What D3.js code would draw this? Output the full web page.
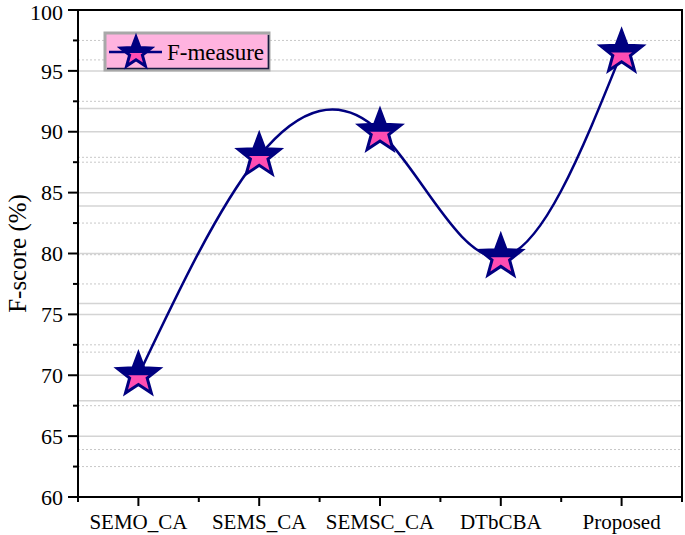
<!DOCTYPE html>
<html>
<head>
<meta charset="utf-8">
<script src="https://cdn.jsdelivr.net/npm/d3@7"></script>
<style>
  body { margin: 0; background: #fff; }
  svg { display: block; font-family: "Liberation Serif", "Times New Roman", serif; }
</style>
</head>
<body>
<svg id="chart" width="685" height="535"></svg>
<script>
const categories = ['SEMO_CA', 'SEMS_CA', 'SEMSC_CA', 'DTbCBA', 'Proposed'];
const fMeasure = [70.0, 88.0, 90.0, 79.7, 96.5];
const yTicks = [60, 65, 70, 75, 80, 85, 90, 95, 100];
const yMinor = [62.5, 67.5, 72.5, 77.5, 82.5, 87.5, 92.5, 97.5];
// second (offset) grid that shows in the original figure
const grid2Major = [67.9, 75.9, 83.9, 91.9];
const grid2Minor = [63.9, 71.9, 79.9, 87.9, 95.9];

const NAVY = '#000080';
const PINK = '#ff4db2';

const svg = d3.select('#chart');
const m = { left: 78, right: 682, top: 10, bottom: 497 };

const x = d3.scaleLinear().domain([0.5, categories.length + 0.5]).range([m.left, m.right]);
const y = d3.scaleLinear().domain([60, 100]).range([m.bottom, m.top]);

// grid
const grid = svg.append('g').attr('class', 'grid');
function hLines(vals, dashed) {
  grid.selectAll(null).data(vals).enter().append('line')
    .attr('x1', m.left).attr('x2', m.right)
    .attr('y1', d => y(d)).attr('y2', d => y(d))
    .attr('stroke', dashed ? '#c8c8c8' : '#d4d4d4')
    .attr('stroke-width', dashed ? 1 : 1.5)
    .attr('stroke-dasharray', dashed ? '2,2' : null);
}
hLines(yTicks.slice(1, -1), false);
hLines(yMinor, true);
hLines(grid2Major, false);
hLines(grid2Minor, true);

// frame
svg.append('rect')
  .attr('x', m.left).attr('y', m.top)
  .attr('width', m.right - m.left).attr('height', m.bottom - m.top)
  .attr('fill', 'none').attr('stroke', '#000').attr('stroke-width', 2);

// y axis
const yAxis = svg.append('g').attr('transform', `translate(${m.left},0)`);
yAxis.selectAll('line.major').data(yTicks).enter().append('line')
  .attr('x1', -10).attr('x2', 0)
  .attr('y1', d => y(d)).attr('y2', d => y(d))
  .attr('stroke', '#000').attr('stroke-width', 2);
yAxis.selectAll('line.minor').data(yMinor).enter().append('line')
  .attr('x1', -5).attr('x2', 0)
  .attr('y1', d => y(d)).attr('y2', d => y(d))
  .attr('stroke', '#000').attr('stroke-width', 2);
yAxis.selectAll('text').data(yTicks).enter().append('text')
  .attr('x', -15).attr('y', d => Math.max(y(d), 12)).attr('dy', '0.35em')
  .attr('text-anchor', 'end').attr('font-size', 22)
  .text(d => d);

// x axis
const xAxis = svg.append('g').attr('transform', `translate(0,${m.bottom})`);
const catIdx = categories.map((c, i) => i + 1);
xAxis.selectAll('line.major').data(catIdx).enter().append('line')
  .attr('x1', d => x(d)).attr('x2', d => x(d))
  .attr('y1', 0).attr('y2', 9)
  .attr('stroke', '#000').attr('stroke-width', 2);
xAxis.selectAll('line.minor').data(d3.range(0.5, categories.length + 1, 1)).enter().append('line')
  .attr('x1', d => x(d)).attr('x2', d => x(d))
  .attr('y1', 0).attr('y2', 5)
  .attr('stroke', '#000').attr('stroke-width', 2);
xAxis.selectAll('text').data(categories).enter().append('text')
  .attr('x', (d, i) => x(i + 1)).attr('y', 32)
  .attr('text-anchor', 'middle').attr('font-size', 21)
  .text(d => d);

// y label
svg.append('text')
  .attr('transform', `translate(26,${(m.top + m.bottom) / 2}) rotate(-90)`)
  .attr('text-anchor', 'middle').attr('font-size', 25)
  .text('F-score (%)');

// line
const pts = fMeasure.map((v, i) => [x(i + 1), y(v)]);
svg.append('path')
  .attr('d', d3.line().curve(d3.curveNatural)(pts))
  .attr('fill', 'none').attr('stroke', NAVY).attr('stroke-width', 2.5);

// star markers
function starPath(r) {
  const ri = r * 0.42;
  const p = [];
  for (let k = 0; k < 10; k++) {
    const a = -Math.PI / 2 + k * Math.PI / 5;
    const rr = k % 2 === 0 ? r : ri;
    p.push([rr * Math.cos(a), rr * Math.sin(a)]);
  }
  return 'M' + p.map(q => q.join(',')).join('L') + 'Z';
}
const defs = svg.append('defs');
defs.append('clipPath').attr('id', 'topHalf')
  .append('rect').attr('x', -40).attr('y', -40).attr('width', 80).attr('height', 40);

function drawStar(g, r) {
  const d = starPath(r);
  g.append('path').attr('d', d).attr('fill', PINK);
  g.append('path').attr('d', d).attr('fill', NAVY).attr('clip-path', 'url(#topHalf)');
  g.append('path').attr('d', d).attr('fill', 'none')
    .attr('stroke', NAVY).attr('stroke-width', 3).attr('stroke-linejoin', 'miter');
}
svg.selectAll('g.star').data(pts).enter().append('g')
  .attr('class', 'star')
  .attr('transform', d => `translate(${d[0]},${d[1]})`)
  .each(function () { drawStar(d3.select(this), 22); });

// legend
const lg = svg.append('g');
lg.append('rect').attr('x', 105).attr('y', 33).attr('width', 164).attr('height', 37)
  .attr('fill', '#ffb3df').attr('stroke', '#a8a8a8').attr('stroke-width', 3);
lg.append('path').attr('d', 'M107,68.5H268.5V35').attr('fill', 'none')
  .attr('stroke', '#1a1a40').attr('stroke-width', 1.5);
lg.append('line').attr('x1', 109).attr('x2', 162).attr('y1', 52).attr('y2', 52)
  .attr('stroke', NAVY).attr('stroke-width', 2.5);
const ls = lg.append('g').attr('transform', 'translate(136,53)');
drawStar(ls, 16);
lg.append('text').attr('x', 167).attr('y', 60).attr('font-size', 23).text('F-measure');
</script>
</body>
</html>
